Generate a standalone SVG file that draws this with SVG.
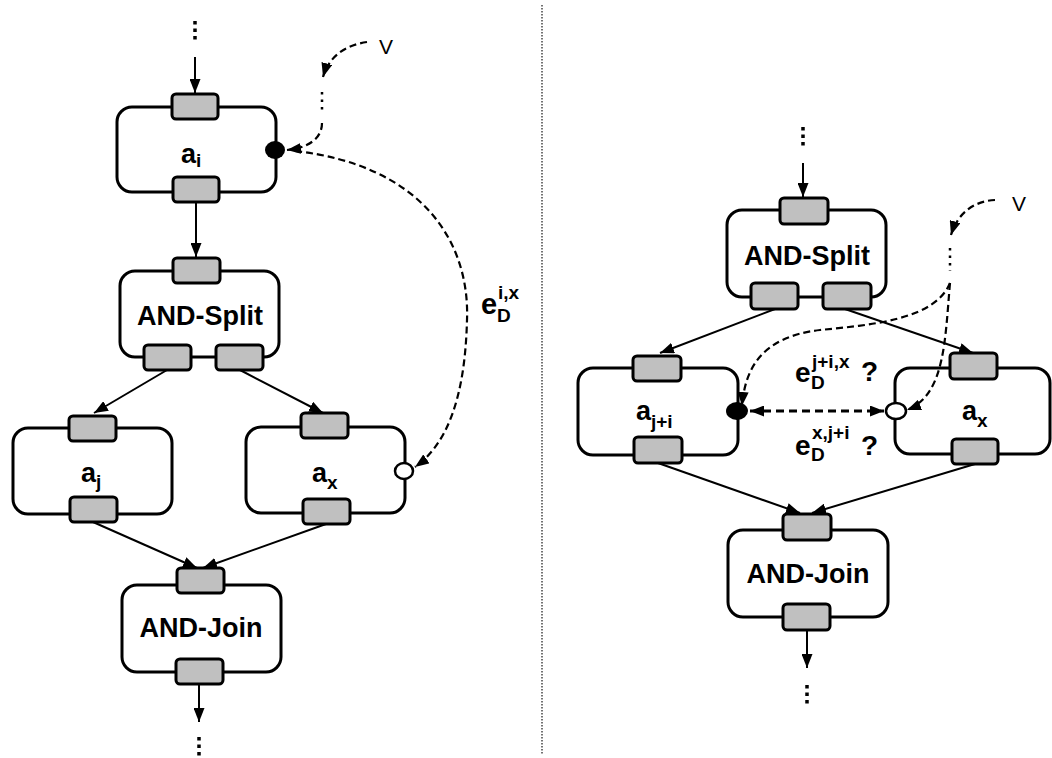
<svg xmlns="http://www.w3.org/2000/svg" width="1052" height="758" viewBox="0 0 1052 758">
  <style>
    .box { fill: #ffffff; stroke: #000; stroke-width: 3; }
    .port { fill: #c0c0c0; stroke: #000; stroke-width: 3; }
    .flow { fill: none; stroke: #000; stroke-width: 2; }
    .dep { fill: none; stroke: #000; stroke-width: 2.2; stroke-dasharray: 7 4; }
    .dots { stroke: #000; stroke-width: 3.5; stroke-dasharray: 3.5 4; }
    .vdots { stroke: #000; stroke-width: 2.5; stroke-dasharray: 2.5 5; }
    .lbl { font-family: "Liberation Sans", Arial, sans-serif; font-weight: bold; fill: #000; }
    .main { font-size: 27px; text-anchor: middle; }
    .act { font-size: 27px; }
    .sub { font-size: 19px; }
    .v { font-family: "Liberation Sans", Arial, sans-serif; font-size: 21px; fill: #000; }
  </style>
  <defs>
    <marker id="arrow" viewBox="0 0 14 11" refX="14" refY="5.5" markerWidth="14" markerHeight="11" markerUnits="userSpaceOnUse" orient="auto-start-reverse">
      <path d="M0,0 L14,5.5 L0,11 z" fill="#000" stroke="none"/>
    </marker>
  </defs>

  <!-- divider between the two variants -->
  <line x1="542" y1="5" x2="542" y2="755" stroke="#444" stroke-width="1.5" stroke-dasharray="1.5 1.5"/>

  <!-- ===== left variant ===== -->
  <g id="node-ai">
    <rect class="box" x="117" y="107" width="159" height="85" rx="15"/>
    <rect class="port" x="172" y="94" width="46" height="25" rx="4"/>
    <rect class="port" x="173" y="177" width="46" height="25" rx="4"/>
    <ellipse cx="275" cy="150" rx="10" ry="9" fill="#000"/>
    <text class="lbl act" x="181" y="163">a</text>
    <text class="lbl sub" x="196" y="167">i</text>
  </g>
  <g id="node-and-split-l">
    <rect class="box" x="120" y="271" width="159" height="86" rx="15"/>
    <rect class="port" x="173" y="258" width="47" height="25" rx="4"/>
    <rect class="port" x="144" y="345" width="47" height="25" rx="4"/>
    <rect class="port" x="216" y="345" width="47" height="25" rx="4"/>
    <text class="lbl main" x="200" y="325">AND-Split</text>
  </g>
  <g id="node-aj">
    <rect class="box" x="13" y="428" width="159" height="86" rx="15"/>
    <rect class="port" x="69" y="416" width="47" height="25" rx="4"/>
    <rect class="port" x="70" y="497" width="47" height="25" rx="4"/>
    <text class="lbl act" x="81" y="482">a</text>
    <text class="lbl sub" x="96" y="488">j</text>
  </g>
  <g id="node-ax-l">
    <rect class="box" x="246" y="427" width="159" height="86" rx="15"/>
    <rect class="port" x="301" y="413" width="47" height="25" rx="4"/>
    <rect class="port" x="303" y="499" width="47" height="25" rx="4"/>
    <ellipse cx="404" cy="471" rx="9" ry="8" fill="#fff" stroke="#000" stroke-width="2.5"/>
    <text class="lbl act" x="312" y="482">a</text>
    <text class="lbl sub" x="327" y="489">x</text>
  </g>
  <g id="node-and-join-l">
    <rect class="box" x="122" y="585" width="159" height="87" rx="15"/>
    <rect class="port" x="177" y="568" width="47" height="25" rx="4"/>
    <rect class="port" x="176" y="659" width="47" height="25" rx="4"/>
    <text class="lbl main" x="201" y="637">AND-Join</text>
  </g>
  <g id="label-v-l">
    <text class="v" x="379" y="54">V</text>
  </g>
  <g id="label-edge-l">
    <text class="lbl" font-size="29" x="481" y="314">e</text>
    <text class="lbl sub" x="498" y="299">i,x</text>
    <text class="lbl sub" x="497" y="322">D</text>
  </g>

  <g id="connectors-l">
    <line class="dots" x1="195" y1="21" x2="195" y2="41"/>
    <line class="flow" x1="195" y1="57" x2="195" y2="93" marker-end="url(#arrow)"/>
    <line class="flow" x1="196" y1="202" x2="196" y2="257" marker-end="url(#arrow)"/>
    <line class="flow" x1="167" y1="370" x2="94" y2="413" marker-end="url(#arrow)"/>
    <line class="flow" x1="240" y1="370" x2="323" y2="413" marker-end="url(#arrow)"/>
    <line class="flow" x1="93" y1="522" x2="197" y2="568" marker-end="url(#arrow)"/>
    <line class="flow" x1="326" y1="524" x2="203" y2="568" marker-end="url(#arrow)"/>
    <line class="flow" x1="199" y1="684" x2="199" y2="722" marker-end="url(#arrow)"/>
    <line class="dots" x1="199" y1="737" x2="199" y2="757"/>
    <!-- V feeding the data edge -->
    <path class="dep" d="M367,42 C346,45 329,56 323,77" marker-end="url(#arrow)"/>
    <line class="vdots" x1="322" y1="92" x2="322" y2="111"/>
    <path class="dep" d="M322,123 C322,140 306,148 287,150" marker-end="url(#arrow)"/>
    <!-- data edge a_i -> a_x -->
    <path class="dep" d="M295,151 C420,165 470,240 467,320 C465,400 446,445 415,467" marker-end="url(#arrow)"/>
  </g>

  <!-- ===== right variant ===== -->
  <g id="node-and-split-r">
    <rect class="box" x="727" y="210" width="159" height="87" rx="15"/>
    <rect class="port" x="780" y="198" width="48" height="26" rx="4"/>
    <rect class="port" x="751" y="283" width="47" height="26" rx="4"/>
    <rect class="port" x="823" y="283" width="48" height="26" rx="4"/>
    <text class="lbl main" x="807" y="265">AND-Split</text>
  </g>
  <g id="node-aji">
    <rect class="box" x="578" y="368" width="160" height="87" rx="15"/>
    <rect class="port" x="633" y="356" width="48" height="25" rx="4"/>
    <rect class="port" x="634" y="437" width="48" height="26" rx="4"/>
    <ellipse cx="737" cy="411" rx="11" ry="9" fill="#000"/>
    <text class="lbl act" x="636" y="420">a</text>
    <text class="lbl sub" x="651" y="428">j+i</text>
  </g>
  <g id="node-ax-r">
    <rect class="box" x="895" y="368" width="155" height="86" rx="15"/>
    <rect class="port" x="950" y="353" width="47" height="26" rx="4"/>
    <rect class="port" x="952" y="439" width="46" height="25" rx="4"/>
    <ellipse cx="896" cy="411" rx="10" ry="8" fill="#fff" stroke="#000" stroke-width="2.5"/>
    <text class="lbl act" x="962" y="420">a</text>
    <text class="lbl sub" x="977" y="427">x</text>
  </g>
  <g id="node-and-join-r">
    <rect class="box" x="728" y="530" width="160" height="87" rx="15"/>
    <rect class="port" x="783" y="514" width="48" height="26" rx="4"/>
    <rect class="port" x="783" y="604" width="47" height="26" rx="4"/>
    <text class="lbl main" x="808" y="583">AND-Join</text>
  </g>
  <g id="label-v-r">
    <text class="v" x="1012" y="211">V</text>
  </g>
  <g id="label-edges-r">
    <text class="lbl" font-size="28" x="795" y="382">e</text>
    <text class="lbl sub" x="812" y="368">j+i,x</text>
    <text class="lbl sub" x="811" y="389">D</text>
    <text class="lbl" font-size="28" x="861" y="381">?</text>
    <text class="lbl" font-size="28" x="795" y="455">e</text>
    <text class="lbl sub" x="812" y="439">x,j+i</text>
    <text class="lbl sub" x="811" y="461">D</text>
    <text class="lbl" font-size="28" x="861" y="455">?</text>
  </g>

  <g id="connectors-r">
    <line class="dots" x1="803" y1="127" x2="803" y2="147"/>
    <line class="flow" x1="803" y1="163" x2="803" y2="197" marker-end="url(#arrow)"/>
    <line class="flow" x1="775" y1="309" x2="660" y2="353" marker-end="url(#arrow)"/>
    <line class="flow" x1="845" y1="309" x2="973" y2="353" marker-end="url(#arrow)"/>
    <line class="flow" x1="658" y1="463" x2="800" y2="513" marker-end="url(#arrow)"/>
    <line class="flow" x1="975" y1="464" x2="812" y2="513" marker-end="url(#arrow)"/>
    <line class="flow" x1="807" y1="630" x2="807" y2="668" marker-end="url(#arrow)"/>
    <line class="dots" x1="807" y1="685" x2="807" y2="705"/>
    <!-- V feeding both candidate edges -->
    <path class="dep" d="M995,200 C975,201 958,212 951,235" marker-end="url(#arrow)"/>
    <line class="vdots" x1="950" y1="248" x2="950" y2="271"/>
    <path class="dep" d="M950,283 C935,320 870,325 820,330 C760,337 745,370 742,406" marker-end="url(#arrow)"/>
    <path class="dep" d="M950,283 C945,340 945,395 907,410" marker-end="url(#arrow)"/>
    <!-- undecided edge direction between a_j+i and a_x -->
    <line x1="750" y1="411" x2="884" y2="411" stroke="#000" stroke-width="3" stroke-dasharray="8 5" marker-start="url(#arrow)" marker-end="url(#arrow)"/>
  </g>
</svg>
